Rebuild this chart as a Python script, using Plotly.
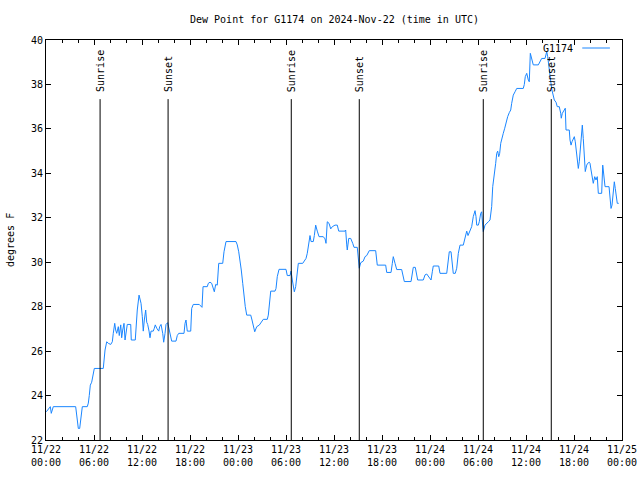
import pandas as pd
import plotly.graph_objects as go

start = pd.Timestamp("2024-11-22 00:00")
end = pd.Timestamp("2024-11-25 00:00")

hours = [0.04, 0.54, 0.66, 0.91, 3.71, 3.88, 4.04, 4.21, 4.46, 4.54, 5.16, 5.29, 5.41, 5.54, 5.71, 5.84, 5.96, 6.04,
         7.16, 7.25, 7.38, 7.59, 7.79, 8.09, 8.29, 8.41, 8.59, 8.71, 8.84, 9.04, 9.16, 9.34, 9.46, 9.59, 9.75, 9.88,
         10.0, 10.16, 10.59, 10.66, 11.16, 11.25, 11.41, 11.63, 11.75, 11.88, 12.04, 12.16, 12.29, 12.46, 12.59,
         12.71, 12.88, 13.0, 13.13, 13.41, 13.54, 13.66, 13.84, 13.96, 14.09, 14.21, 14.38, 14.59, 14.71, 14.88,
         15.0, 15.21, 15.41, 15.59, 15.71, 16.25, 16.41, 16.59, 17.25, 17.38, 17.5, 17.66, 18.09, 18.21, 18.41,
         19.16, 19.34, 19.5, 19.63, 20.16, 20.29, 20.5, 20.71, 20.91, 21.04, 21.21, 21.41, 21.59, 22.09, 22.25,
         22.5, 23.75, 23.91, 24.09, 24.25, 24.41, 24.59, 24.75, 24.91, 25.09, 25.59, 25.75, 25.91, 26.09, 26.34,
         26.66, 27.16, 27.66, 27.79, 27.91, 28.09, 28.63, 28.75, 28.91, 29.13, 30.0, 30.16, 30.5, 30.63, 30.79,
         30.91, 31.04, 31.21, 31.34, 31.54, 32.09, 32.25, 32.5, 32.66, 32.79, 32.91, 33.0, 33.13, 33.41, 33.54,
         33.71, 33.91, 34.13, 34.66, 34.88, 35.0, 35.16, 35.38, 35.59, 35.79, 36.13, 36.41, 36.59, 37.38, 37.46,
         37.59, 37.66, 37.84, 38.09, 38.34, 38.5, 38.91, 39.04, 39.16, 39.34, 39.66, 39.88, 40.09, 40.41, 41.21,
         41.41, 42.46, 42.59, 43.13, 43.29, 43.41, 43.63, 43.84, 44.46, 44.59, 44.79, 45.63, 45.79, 45.91, 46.16,
         46.34, 46.46, 47.16, 47.38, 47.59, 47.79, 48.0, 48.13, 48.29, 48.41, 49.09, 49.25, 50.09, 50.25, 50.41,
         50.63, 50.75, 50.91, 51.16, 51.34, 51.54, 51.75, 52.16, 52.29, 52.46, 52.59, 52.75, 53.0, 53.21, 53.41,
         53.63, 53.75, 53.84, 54.04, 54.16, 54.34, 54.46, 54.59, 54.66, 54.88, 55.16, 55.29, 55.5, 55.71, 55.84,
         55.96, 56.09, 56.21, 56.34, 56.46, 56.59, 56.71, 56.84, 57.04, 57.16, 57.34, 57.46, 57.71, 57.91, 58.09,
         58.21, 58.41, 58.63, 58.84, 59.66, 59.79, 59.91, 60.09, 60.29, 60.41, 60.54, 60.71, 60.91, 61.54, 61.75,
         61.96, 62.38, 62.59, 62.71, 62.91, 63.09, 63.21, 63.54, 63.75, 63.91, 64.16, 64.34, 64.41, 64.54, 64.66,
         64.79, 64.91, 65.0, 65.41, 65.5, 65.63, 65.75, 65.91, 66.04, 66.16, 66.34, 66.54, 66.66, 66.79, 66.91,
         67.04, 67.16, 67.29, 67.41, 67.59, 67.71, 67.91, 68.0, 68.13, 68.29, 68.41, 68.59, 68.75, 68.91, 69.04,
         69.46, 69.59, 69.66, 69.79, 69.88, 70.38, 70.5, 70.63, 70.75, 70.91, 71.04, 71.16, 71.25, 71.41, 71.59]

dewpoint = [23.27, 23.5, 23.2, 23.5, 23.5, 23.0, 22.52, 22.52, 23.27, 23.5, 23.5, 23.66, 24.0, 24.47, 24.6, 24.92, 25.07, 25.22,
            25.22, 25.6, 26.05, 26.42, 26.35, 26.3, 26.42, 26.8, 27.25, 26.95, 26.8, 27.1, 26.7, 27.18, 26.6, 26.95, 27.25, 26.5,
            26.95, 27.2, 27.2, 26.5, 26.5, 27.25, 27.85, 28.52, 28.3, 28.15, 27.55, 26.9, 27.4, 27.85, 27.3,
            27.2, 26.9, 26.6, 26.9, 26.9, 27.03, 27.18, 27.03, 26.95, 26.9, 27.1, 27.2, 26.8, 26.4, 26.8,
            27.2, 27.28, 26.95, 26.6, 26.45, 26.45, 26.7, 26.8, 26.8, 27.25, 27.4, 26.9, 26.9, 27.92, 28.1,
            28.1, 28.0, 27.97, 28.9, 28.9, 29.05, 29.1, 29.05, 28.8, 28.67, 29.0, 28.97, 29.95, 29.95, 30.47,
            30.93, 30.93, 30.78, 30.47, 30.1, 29.65, 29.05, 28.45, 28.0, 27.62, 27.62, 27.4, 27.1, 26.87, 27.1,
            27.17, 27.43, 27.43, 27.62, 28.15, 28.7, 28.7, 28.82, 29.35, 29.68, 29.68, 29.4, 29.4, 29.6, 29.2,
            28.9, 28.67, 28.9, 29.35, 29.95, 29.95, 30.02, 30.17, 30.4, 30.7, 31.0, 31.2, 30.93, 30.93, 31.2,
            31.67, 31.4, 31.15, 31.15, 31.05, 30.85, 31.82, 31.75, 31.5, 31.6, 31.67, 31.67, 31.4, 31.4, 31.45,
            30.78, 30.55, 31.07, 31.07, 30.85, 30.67, 30.67, 30.25, 29.73, 29.98, 30.05, 30.25, 30.3, 30.52, 30.52,
            29.87, 29.87, 29.54, 29.54, 29.95, 30.25, 29.95, 29.67, 29.67, 29.5, 29.13, 29.13, 29.5, 29.77, 29.77,
            29.43, 29.2, 29.2, 29.43, 29.47, 29.37, 29.3, 29.2, 29.57, 29.83, 29.83, 29.5, 29.5, 29.95, 30.47,
            30.47, 29.95, 29.5, 29.5, 29.73, 30.4, 30.77, 30.77, 31.0, 31.3, 31.4, 31.2, 31.45, 31.6, 32.05,
            32.32, 32.05, 31.67, 31.67, 31.82, 32.2, 32.27, 31.63, 31.38, 31.67, 31.75, 31.82, 31.9, 32.5, 33.4,
            33.7, 34.0, 34.45, 34.9, 35.0, 34.75, 34.9, 35.35, 35.57, 35.8, 36.03, 36.25, 36.55, 36.73, 36.85,
            37.15, 37.52, 37.67, 37.82, 37.82, 38.0, 38.35, 38.5, 38.2, 38.12, 39.4, 39.17, 38.88, 38.88, 39.03,
            39.17, 39.17, 39.48, 39.25, 38.65, 38.05, 37.8, 37.3, 37.2, 37.0, 37.0, 36.7, 36.48, 36.7, 36.78,
            36.88, 36.93, 35.95, 35.95, 35.5, 35.27, 35.42, 35.6, 35.65, 35.42, 34.68, 34.22, 34.52, 35.05, 35.5,
            36.17, 35.57, 34.75, 34.08, 34.37, 34.45, 34.5, 34.45, 34.15, 33.7, 33.55, 33.85, 33.7, 33.85, 33.1,
            33.1, 34.37, 34.15, 33.7, 33.4, 33.4, 32.88, 32.42, 32.57, 33.02, 33.62, 33.32, 33.02, 32.65, 32.65]

sun_event_hours = [6.76, 15.26, 30.66, 39.16, 54.66, 63.16]
sun_event_labels = ["Sunrise", "Sunset", "Sunrise", "Sunset", "Sunrise", "Sunset"]

tick_hours = list(range(0, 73, 6))
tick_labels = ["11/22<br>00:00", "11/22<br>06:00", "11/22<br>12:00", "11/22<br>18:00",
               "11/23<br>00:00", "11/23<br>06:00", "11/23<br>12:00", "11/23<br>18:00",
               "11/24<br>00:00", "11/24<br>06:00", "11/24<br>12:00", "11/24<br>18:00",
               "11/25<br>00:00"]
y_ticks = [22, 24, 26, 28, 30, 32, 34, 36, 38, 40]

series_name = "G1174"
title = "Dew Point for G1174 on 2024-Nov-22 (time in UTC)"
line_color = "#1a86ff"
FONT = "DejaVu Sans Mono"

times = [start + pd.Timedelta(hours=h) for h in hours]
tick_times = [start + pd.Timedelta(hours=h) for h in tick_hours]
sun_times = [start + pd.Timedelta(hours=h) for h in sun_event_hours]

fig = go.Figure()
fig.add_trace(go.Scatter(x=times, y=dewpoint, mode="lines", name=series_name,
                         line=dict(color=line_color, width=1), showlegend=False))

for t, lab in zip(sun_times, sun_event_labels):
    fig.add_shape(type="line", xref="x", yref="y", x0=t, x1=t, y0=22, y1=37.34,
                  line=dict(color="black", width=1))
    fig.add_annotation(x=t, y=37.62, xref="x", yref="y", text=lab, textangle=-90,
                       showarrow=False, xanchor="center", yanchor="bottom", xshift=1,
                       font=dict(family=FONT, size=10, color="black"), borderpad=0)

# legend (gnuplot style: text then line sample)
fig.add_annotation(x=0.918, y=0.9775, xref="paper", yref="paper", text=series_name,
                   showarrow=False, xanchor="right", yanchor="middle",
                   font=dict(family=FONT, size=10, color="black"))
fig.add_shape(type="line", xref="paper", yref="paper", x0=0.931, x1=0.979, y0=0.98, y1=0.98,
              line=dict(color=line_color, width=1))

# title and y label
fig.add_annotation(x=0.5, y=1.05, xref="paper", yref="paper", text=title, showarrow=False,
                   xanchor="center", yanchor="middle", font=dict(family=FONT, size=10, color="black"))
fig.add_annotation(x=-0.0625, y=0.5, xref="paper", yref="paper", text="degrees F", showarrow=False,
                   textangle=-90, xanchor="center", yanchor="middle",
                   font=dict(family=FONT, size=10, color="black"))

axis_common = dict(showline=True, linecolor="black", linewidth=1, mirror="ticks",
                   ticks="inside", tickcolor="black", tickwidth=1, ticklen=5,
                   showgrid=False, zeroline=False, automargin=False,
                   tickfont=dict(family=FONT, size=10, color="black"))

fig.update_layout(
    width=640, height=480,
    margin=dict(l=46, r=18, t=40, b=40),
    paper_bgcolor="white", plot_bgcolor="white",
    font=dict(family=FONT, size=10, color="black"),
    xaxis=dict(range=[start, end], tickmode="array", tickvals=tick_times, ticktext=tick_labels,
               minor=dict(dtick=2 * 3600 * 1000, ticks="inside", ticklen=3, tickcolor="black", showgrid=False),
               **axis_common),
    yaxis=dict(range=[22, 40], tickmode="array", tickvals=y_ticks, **axis_common),
)

fig.write_html("out.html")
